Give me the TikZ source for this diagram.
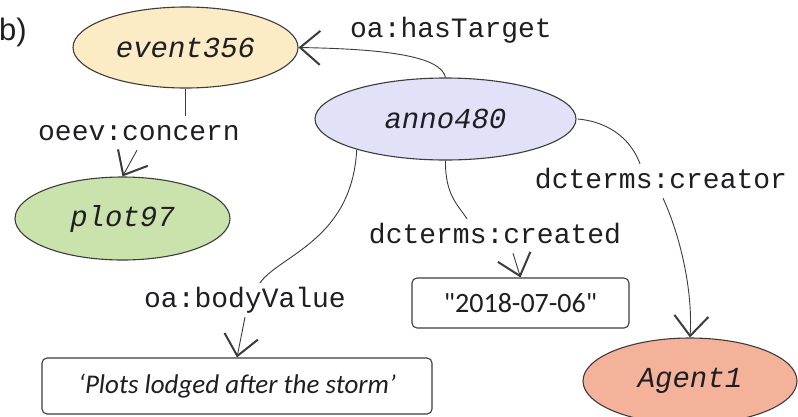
\documentclass[tikz,border=0pt]{standalone}
\usepackage{fontspec}
\setmainfont{Carlito}
\newfontfamily\datefont[Ligatures=TeXOff]{Carlito}
\newfontfamily\monofont{Liberation Mono}
\newfontfamily\labfont{Liberation Sans}
\usetikzlibrary{shapes.geometric,arrows.meta}
\definecolor{eventfill}{RGB}{251,236,197}
\definecolor{plotfill}{RGB}{202,226,172}
\definecolor{annofill}{RGB}{225,225,248}
\definecolor{agentfill}{RGB}{245,178,154}
\definecolor{edgecol}{RGB}{60,60,60}
\definecolor{txtcol}{RGB}{30,30,35}
\tikzset{
  ell/.style={ellipse, draw=edgecol, line width=1.1pt, inner sep=0pt,
    font=\monofont\itshape\fontsize{29}{34}\selectfont, text=txtcol},
  litbox/.style={rectangle, rounded corners=5pt, draw=edgecol, line width=1.1pt, inner sep=0pt,
    text=txtcol},
  lab/.style={anchor=base, inner xsep=1pt, inner ysep=4pt, text height=20pt, text depth=6pt,
    font=\monofont\fontsize{28}{32}\selectfont, text=txtcol},
  conn/.style={draw=edgecol, line width=0.9pt},
  arr/.style={conn, -{Straight Barb[length=20pt,width=34pt,line width=2pt]}},
}
\begin{document}
\begin{tikzpicture}[x=1pt,y=-1pt]
\useasboundingbox (0,0) rectangle (798,416);
\fill[white] (0,0) rectangle (798,416);
% panel label
\node[anchor=base west, inner sep=0pt, font=\labfont\fontsize{31}{36}\selectfont, text=txtcol] (tag) at (-1,40) {b)};
% nodes
\node[ell, fill=eventfill, minimum width=225pt, minimum height=81pt] (event) at (185.5,47.5) {event356};
\node[ell, fill=plotfill, minimum width=215pt, minimum height=83pt] (plot) at (122.5,218.5) {plot97};
\node[ell, fill=annofill, minimum width=261pt, minimum height=82pt] (anno) at (445.5,119) {anno480};
\node[ell, fill=agentfill, minimum width=214pt, minimum height=86pt] (agent) at (690,381) {Agent1};
\node[litbox, minimum width=390pt, minimum height=56pt, font=\itshape\fontsize{27}{32}\selectfont] (body) at (237,386) {`Plots lodged after the storm'};
\node[litbox, minimum width=217pt, minimum height=50pt, font=\datefont\fontsize{28}{32}\selectfont] (date) at (520.5,303) {"2018-07-06"};
% labels
\node[lab] (lhas) at (451,37) {oa:hasTarget};
\node[lab] (lcon) at (139,140) {oeev:concern};
\node[lab] (lbody) at (245,307) {oa:bodyValue};
\node[lab] (lcreated) at (495,243) {dcterms:created};
\node[lab] (lcreator) at (661,188) {dcterms:creator};
% connectors
\draw[arr] (anno.north) .. controls (441,56) and (385,49) .. (event.east);
\draw[conn] (event.south) -- (lcon.north -| event.south);
\draw[arr] ([xshift=-2pt]lcon.south) -- (plot.north);
\draw[conn] (anno.199) .. controls (352,240) and (280,255) .. ([xshift=15pt]lbody.north);
\draw[arr] (lbody.south) -- (body.north);
\draw[conn] (anno.south) .. controls (445,195) and (458,205) .. ([xshift=-28pt]lcreated.north);
\draw[arr] ([xshift=18pt]lcreated.south) -- (date.north);
\draw[conn] ([xshift=1pt]anno.east) .. controls (612,122) and (632,142) .. ([xshift=-21pt]lcreator.north);
\draw[arr] ([xshift=2pt]lcreator.south) .. controls (680,235) and (693,290) .. (agent.north);
\end{tikzpicture}
\end{document}
